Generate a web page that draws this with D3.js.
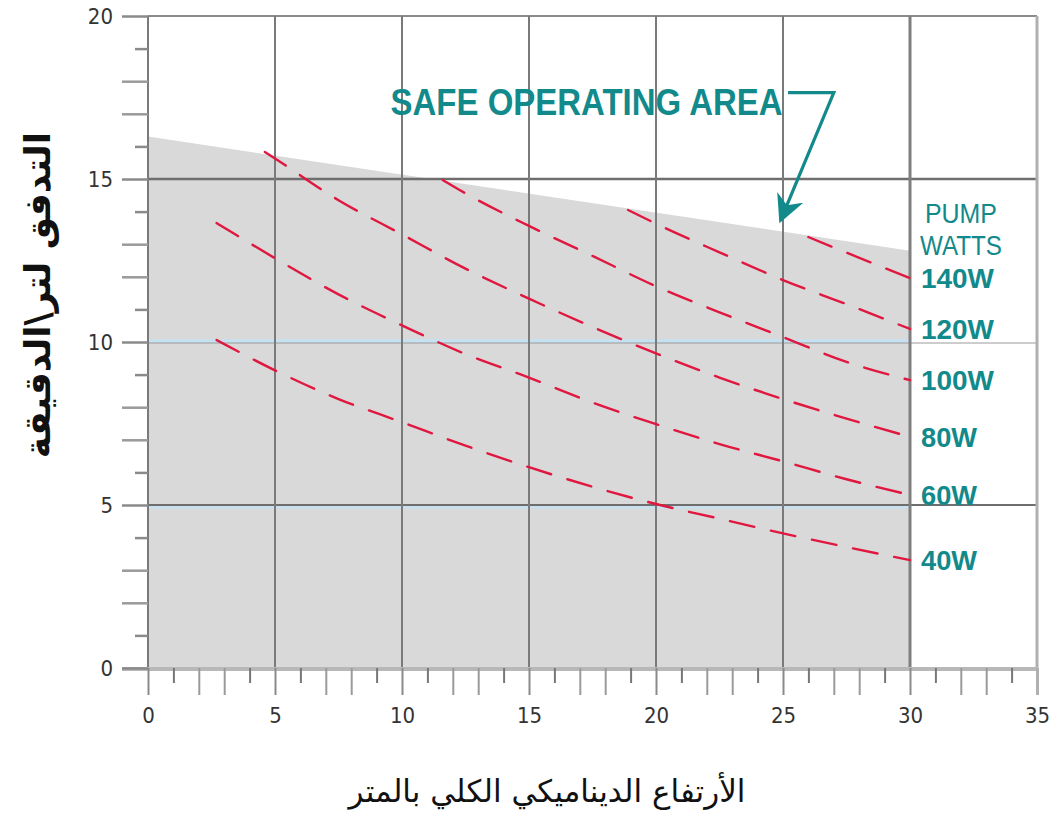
<!DOCTYPE html>
<html>
<head>
<meta charset="utf-8">
<script src="https://cdn.jsdelivr.net/npm/d3@7"></script>
<style>
  html, body { margin: 0; padding: 0; background: #ffffff; }
  svg { display: block; }
</style>
</head>
<body>
<svg id="chart" width="1054" height="827"></svg>
<script>
// ---------- DATA ----------
const pumpLabels = ["140W", "120W", "100W", "80W", "60W", "40W"];

const head140 = [26, 27.5, 30];
const flow140 = [13.22, 12.74, 11.96];

const head120 = [18.9, 20, 22.5, 25, 27.5, 30];
const flow120 = [14.05, 13.63, 12.75, 11.9, 11.16, 10.4];

const head100 = [11.6, 12.5, 15, 17.5, 20, 22.5, 25, 27.5, 30];
const flow100 = [14.97, 14.56, 13.56, 12.64, 11.71, 10.91, 10.15, 9.39, 8.83];

const head80 = [4.6, 5, 7.5, 10, 12.5, 15, 17.5, 20, 22.5, 25, 27.5, 30];
const flow80 = [15.83, 15.63, 14.35, 13.3, 12.25, 11.33, 10.46, 9.65, 8.91, 8.25, 7.65, 7.09];

const head60 = [2.7, 5, 7.5, 10, 12.5, 15, 17.5, 20, 22.5, 25, 27.5, 30];
const flow60 = [13.65, 12.57, 11.46, 10.51, 9.63, 8.91, 8.14, 7.48, 6.87, 6.34, 5.79, 5.31];

const head40 = [2.7, 5, 7.5, 10, 12.5, 15, 17.5, 20, 22.5, 25, 27.5, 30];
const flow40 = [10.06, 9.13, 8.25, 7.54, 6.82, 6.16, 5.56, 5.03, 4.58, 4.13, 3.71, 3.31];

// safe operating area boundary (top edge)
const safeHead = [0, 30];
const safeFlow = [16.3, 12.8];

// ticks
const xMajorTicks = [0, 5, 10, 15, 20, 25, 30, 35];
const yMajorTicks = [0, 5, 10, 15, 20];
const xTickLabels = ["0", "5", "10", "15", "20", "25", "30", "35"];
const yTickLabels = ["0", "5", "10", "15", "20"];

// texts
const xTitle = "الأرتفاع الديناميكي الكلي بالمتر";
const yTitle = "التدفق لتر\\الدقيقة";
const annotationText = "SAFE OPERATING AREA";
const legendTitle = ["PUMP", "WATTS"];

// annotation anchor points (data units)
const annoTextPos = [9.55, 16.97];
const arrowPath = [[25.2, 17.65], [27.0, 17.65], [24.9, 13.72]];

// ---------- CHART ----------
const svg = d3.select("#chart");
const W = 1054, H = 827;
const x = d3.scaleLinear().domain([0, 35]).range([148, 1037]);
const y = d3.scaleLinear().domain([0, 20]).range([668, 16]);

const teal = "#12898a";
const red = "#e0173f";
const gridDark = "#7a7a7a";

svg.append("rect").attr("width", W).attr("height", H).attr("fill", "#fff");

// shaded safe area
const areaPts = [
  [safeHead[0], 0],
  [safeHead[0], safeFlow[0]],
  [safeHead[1], safeFlow[1]],
  [safeHead[1], 0]
];
svg.append("path")
  .attr("d", d3.line().x(d => x(d[0])).y(d => y(d[1]))(areaPts) + "Z")
  .attr("fill", "#d9d9d9");

// horizontal grid lines
const gGrid = svg.append("g");
gGrid.append("line").attr("x1", x(0)).attr("x2", x(35)).attr("y1", y(20)).attr("y2", y(20))
  .attr("stroke", "#8a8a8a").attr("stroke-width", 2);
gGrid.append("line").attr("x1", x(0)).attr("x2", x(35)).attr("y1", y(15)).attr("y2", y(15))
  .attr("stroke", "#6e6e6e").attr("stroke-width", 2.5);
// 10: light blue inside shaded area, grey outside
gGrid.append("line").attr("x1", x(0)).attr("x2", x(30)).attr("y1", y(10) - 1).attr("y2", y(10) - 1)
  .attr("stroke", "#c3e3f5").attr("stroke-width", 3);
gGrid.append("line").attr("x1", x(0)).attr("x2", x(35)).attr("y1", y(10) + 1).attr("y2", y(10) + 1)
  .attr("stroke", "#9a9a9a").attr("stroke-width", 1);
// 5: dark line + light blue below
gGrid.append("line").attr("x1", x(0)).attr("x2", x(30)).attr("y1", y(5) + 2.5).attr("y2", y(5) + 2.5)
  .attr("stroke", "#c3e3f5").attr("stroke-width", 2);
gGrid.append("line").attr("x1", x(0)).attr("x2", x(35)).attr("y1", y(5)).attr("y2", y(5))
  .attr("stroke", "#6e6e6e").attr("stroke-width", 2);

// vertical grid lines
[5, 10, 15, 20, 25].forEach(v => {
  gGrid.append("line").attr("x1", x(v)).attr("x2", x(v)).attr("y1", y(20)).attr("y2", y(0))
    .attr("stroke", gridDark).attr("stroke-width", 2);
});
gGrid.append("line").attr("x1", x(30)).attr("x2", x(30)).attr("y1", y(20)).attr("y2", y(0))
  .attr("stroke", "#7f7f7f").attr("stroke-width", 3);
gGrid.append("line").attr("x1", x(0)).attr("x2", x(0)).attr("y1", y(20)).attr("y2", y(0))
  .attr("stroke", gridDark).attr("stroke-width", 2);
gGrid.append("line").attr("x1", x(35)).attr("x2", x(35)).attr("y1", y(20)).attr("y2", y(0))
  .attr("stroke", "#b0b0b0").attr("stroke-width", 3);

// x axis baseline
svg.append("line").attr("x1", x(0) - 26).attr("x2", x(35)).attr("y1", y(0) + 1).attr("y2", y(0) + 1)
  .attr("stroke", "#b8b8b8").attr("stroke-width", 4);

// ---------- AXES ----------
const tickFont = "'Liberation Sans Narrow', 'DejaVu Sans Condensed', 'Liberation Sans', Arial, sans-serif";

function styleAxis(g, color, width) {
  g.select(".domain").remove();
  g.selectAll(".tick line").attr("stroke", color).attr("stroke-width", width);
  g.selectAll(".tick text").attr("fill", "#333").style("font-family", tickFont).style("font-size", "22px");
}

const allInts = d3.range(0, 36);
const minorLong = allInts.filter(v => v % 5 === 2 || v % 5 === 3);
const minorShort = allInts.filter(v => v % 5 === 1 || v % 5 === 4);

// y axis
const yMajor = svg.append("g").attr("transform", `translate(${x(0)},0)`)
  .call(d3.axisLeft(y).tickValues(yMajorTicks).tickSize(26).tickPadding(9)
    .tickFormat((d, i) => yTickLabels[i]));
styleAxis(yMajor, "#8a8a8a", 2.5);
const yLong = svg.append("g").attr("transform", `translate(${x(0)},0)`)
  .call(d3.axisLeft(y).tickValues(minorLong.filter(v => v < 20)).tickSize(26).tickFormat(""));
styleAxis(yLong, "#9a9a9a", 2.5);
const yShort = svg.append("g").attr("transform", `translate(${x(0)},0)`)
  .call(d3.axisLeft(y).tickValues(minorShort.filter(v => v < 20)).tickSize(13).tickFormat(""));
styleAxis(yShort, "#8a8a8a", 2.5);

// x axis
const xMajor = svg.append("g").attr("transform", `translate(0,${y(0)})`)
  .call(d3.axisBottom(x).tickValues(xMajorTicks).tickSize(27).tickPadding(12)
    .tickFormat((d, i) => xTickLabels[i]));
styleAxis(xMajor, "#8a8a8a", 2);
xMajor.selectAll(".tick line").filter(d => d === 35).attr("stroke", "#b0b0b0").attr("stroke-width", 3);
const xLong = svg.append("g").attr("transform", `translate(0,${y(0)})`)
  .call(d3.axisBottom(x).tickValues(minorLong).tickSize(27).tickFormat(""));
styleAxis(xLong, "#9a9a9a", 2);
const xShort = svg.append("g").attr("transform", `translate(0,${y(0)})`)
  .call(d3.axisBottom(x).tickValues(minorShort).tickSize(15).tickFormat(""));
styleAxis(xShort, "#777", 2);

// ---------- CURVES ----------
const series = [
  { label: pumpLabels[0], hx: head140, fy: flow140 },
  { label: pumpLabels[1], hx: head120, fy: flow120 },
  { label: pumpLabels[2], hx: head100, fy: flow100 },
  { label: pumpLabels[3], hx: head80, fy: flow80 },
  { label: pumpLabels[4], hx: head60, fy: flow60 },
  { label: pumpLabels[5], hx: head40, fy: flow40 }
];
const line = d3.line().x(d => x(d[0])).y(d => y(d[1])).curve(d3.curveMonotoneX);
series.forEach(s => {
  const pts = s.hx.map((h, i) => [h, s.fy[i]]);
  svg.append("path").attr("d", line(pts))
    .attr("fill", "none").attr("stroke", red).attr("stroke-width", 2.4)
    .attr("stroke-dasharray", "25,17").attr("stroke-linecap", "round");
  svg.append("text")
    .attr("x", x(30) + 11).attr("y", y(s.fy[s.fy.length - 1]) + 10)
    .attr("fill", teal)
    .style("font-family", "'Liberation Sans', Arial, sans-serif")
    .style("font-weight", "bold").style("font-size", "27px")
    .attr("textLength", s.label.length === 4 ? 73 : 56).attr("lengthAdjust", "spacingAndGlyphs")
    .text(s.label);
});

// legend title
legendTitle.forEach((t, i) => {
  svg.append("text")
    .attr("x", i === 0 ? 925 : 920).attr("y", i === 0 ? 223 : 255)
    .attr("fill", teal)
    .style("font-family", "'Liberation Sans', Arial, sans-serif")
    .style("font-size", "27px")
    .attr("textLength", i === 0 ? 72 : 82).attr("lengthAdjust", "spacingAndGlyphs")
    .text(t);
});

// ---------- ANNOTATION ----------
svg.append("text")
  .attr("x", x(annoTextPos[0])).attr("y", y(annoTextPos[1]))
  .attr("fill", teal)
  .style("font-family", "'Liberation Sans', Arial, sans-serif")
  .style("font-weight", "bold").style("font-size", "37px")
  .attr("textLength", 392).attr("lengthAdjust", "spacingAndGlyphs")
  .text(annotationText);

svg.append("defs").append("marker")
  .attr("id", "arrowhead").attr("viewBox", "0 0 10 10")
  .attr("refX", 9).attr("refY", 5).attr("markerWidth", 28).attr("markerHeight", 28)
  .attr("markerUnits", "userSpaceOnUse")
  .attr("orient", "auto")
  .append("path").attr("d", "M0,0 L10,5 L0,10 L3,5 Z").attr("fill", teal);

svg.append("path")
  .attr("d", d3.line().x(d => x(d[0])).y(d => y(d[1]))(arrowPath))
  .attr("fill", "none").attr("stroke", teal).attr("stroke-width", 3.2)
  .attr("stroke-linejoin", "miter")
  .attr("marker-end", "url(#arrowhead)");

// ---------- AXIS TITLES ----------
svg.append("text")
  .attr("x", 547).attr("y", 802)
  .attr("text-anchor", "middle")
  .attr("fill", "#111")
  .style("font-family", "'DejaVu Sans', sans-serif")
  .style("font-size", "31px")
  .attr("direction", "rtl")
  .text(xTitle);

svg.append("text")
  .attr("transform", "translate(50,295) rotate(-90)")
  .attr("text-anchor", "middle")
  .attr("fill", "#111")
  .style("font-family", "'DejaVu Sans', sans-serif")
  .style("font-weight", "bold")
  .style("font-size", "36px")
  .attr("direction", "rtl")
  .text(yTitle);
</script>
</body>
</html>
